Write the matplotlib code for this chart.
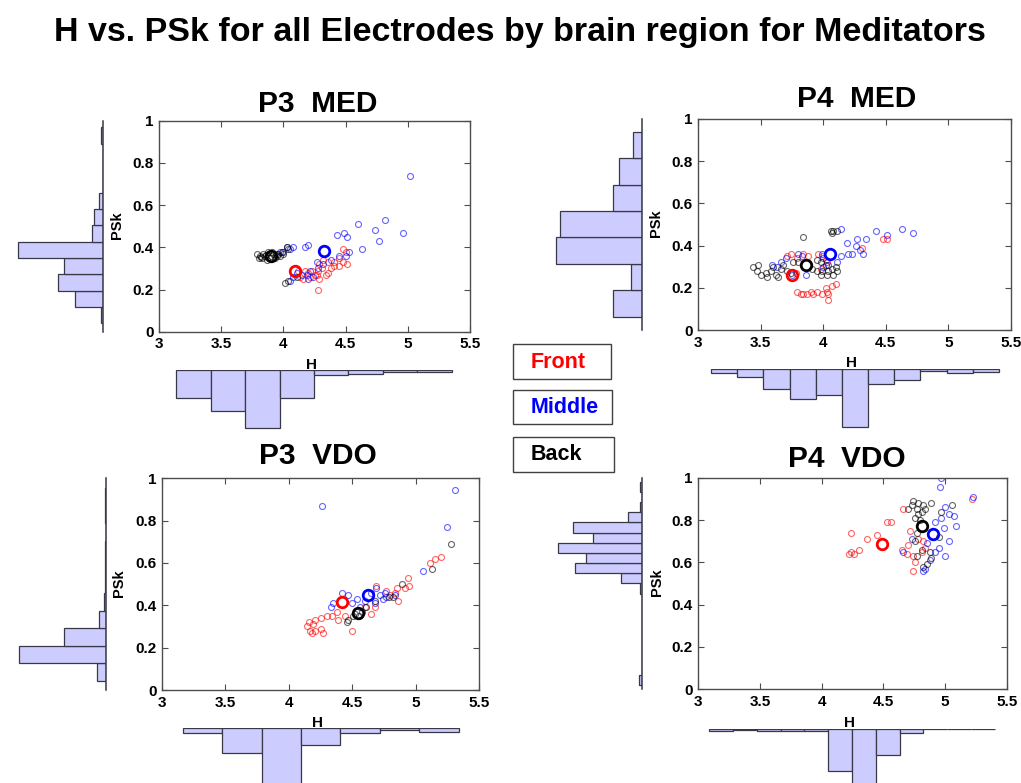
import numpy as np
import matplotlib
matplotlib.use("Agg")
import matplotlib.pyplot as plt
from matplotlib.patches import Rectangle

plt.rcParams['font.family'] = ['Liberation Sans', 'DejaVu Sans']
plt.rcParams['font.weight'] = 'bold'
plt.rcParams['axes.labelweight'] = 'bold'

W, H = 1021, 783

# ---------------- P3 MED ----------------
p3_med_front_h = [4.28, 4.48, 4.50, 4.45, 4.48, 4.41, 4.36, 4.32, 4.29, 4.28, 4.31, 4.34, 4.36, 4.38,
                  4.25, 4.23, 4.20, 4.17, 4.13, 4.16, 4.21, 4.29, 4.41, 4.45, 4.51, 4.27, 4.12]
p3_med_front_psk = [0.20, 0.39, 0.38, 0.35, 0.33, 0.33, 0.33, 0.34, 0.32, 0.29, 0.30, 0.27, 0.28, 0.30,
                    0.27, 0.29, 0.28, 0.29, 0.26, 0.25, 0.26, 0.25, 0.31, 0.31, 0.32, 0.27, 0.29]
p3_med_middle_h = [5.02, 4.82, 4.60, 4.74, 4.96, 4.43, 4.49, 4.51, 4.77, 4.63, 4.53, 4.45, 4.50, 4.38,
                   4.20, 4.17, 4.08, 4.05, 4.03, 3.97, 4.00, 4.32, 4.28, 4.21, 4.19, 4.24, 4.15, 4.08,
                   4.05, 4.20, 4.11, 4.27]
p3_med_middle_psk = [0.74, 0.53, 0.51, 0.48, 0.47, 0.46, 0.47, 0.45, 0.43, 0.39, 0.38, 0.36, 0.36, 0.34,
                     0.41, 0.40, 0.40, 0.39, 0.40, 0.38, 0.38, 0.32, 0.30, 0.29, 0.27, 0.26, 0.27, 0.26,
                     0.24, 0.25, 0.28, 0.33]
p3_med_back_h = [3.79, 3.81, 3.84, 3.85, 3.88, 3.89, 3.92, 3.93, 3.96, 3.99, 4.00, 4.03, 4.04, 3.80,
                 3.83, 3.87, 3.91, 3.95, 4.01, 4.04, 4.11, 3.82, 3.86, 3.90, 3.94, 3.97]
p3_med_back_psk = [0.37, 0.36, 0.37, 0.36, 0.38, 0.35, 0.37, 0.35, 0.37, 0.38, 0.37, 0.40, 0.39, 0.35,
                   0.35, 0.34, 0.38, 0.36, 0.23, 0.24, 0.26, 0.355, 0.365, 0.36, 0.37, 0.36]
p3_med_means = [(4.09, 0.289), (4.325, 0.384), (3.90, 0.358)]
p3_med_hist_psk = [2.3, 28, 45.3, 38.7, 84.7, 10.7, 8.7, 4, 0, 0, 0, 2.3]
p3_med_hist_psk_range = (0.04, 0.969)
p3_med_hist_h = [28.3, 41, 58.3, 28.3, 5, 4.3, 1.7, 1.7]
p3_med_hist_h_range = (3.137, 5.355)

# ---------------- P4 MED ----------------
p4_med_front_h = [4.48, 4.51, 4.31, 3.79, 3.82, 3.84, 3.87, 3.90, 3.92, 3.95, 3.99, 4.03, 4.04, 4.07,
                  4.10, 4.04, 4.02, 3.71, 3.74, 3.79, 3.84, 3.88, 3.96, 3.99, 4.02, 4.03, 3.98, 3.78]
p4_med_front_psk = [0.43, 0.43, 0.39, 0.18, 0.17, 0.17, 0.17, 0.18, 0.17, 0.18, 0.17, 0.18, 0.17, 0.21,
                    0.22, 0.14, 0.20, 0.35, 0.36, 0.34, 0.36, 0.35, 0.36, 0.35, 0.33, 0.32, 0.29, 0.27]
p4_med_middle_h = [4.14, 4.42, 4.63, 4.72, 4.27, 4.34, 4.51, 4.19, 4.26, 4.29, 4.32, 4.20, 4.14, 4.23,
                   4.11, 4.00, 3.99, 3.80, 3.83, 3.70, 3.66, 3.59, 3.63, 3.75, 3.86, 4.00, 4.04]
p4_med_middle_psk = [0.48, 0.47, 0.48, 0.46, 0.43, 0.43, 0.45, 0.41, 0.40, 0.38, 0.36, 0.36, 0.35, 0.36,
                     0.32, 0.34, 0.36, 0.36, 0.35, 0.34, 0.32, 0.31, 0.30, 0.26, 0.26, 0.30, 0.31]
p4_med_back_h = [3.44, 3.48, 3.47, 3.50, 3.54, 3.55, 3.58, 3.60, 3.62, 3.64, 3.66, 3.68, 3.71, 3.74,
                 3.76, 3.80, 3.84, 3.91, 3.95, 3.98, 3.99, 4.02, 4.04, 4.07, 4.10, 4.06, 4.08, 4.11,
                 4.07, 3.95, 3.98, 4.03, 4.08, 4.11]
p4_med_back_psk = [0.30, 0.31, 0.28, 0.26, 0.27, 0.25, 0.28, 0.30, 0.26, 0.25, 0.29, 0.31, 0.28, 0.27,
                   0.32, 0.32, 0.44, 0.29, 0.28, 0.26, 0.28, 0.31, 0.28, 0.29, 0.30, 0.47, 0.47, 0.47,
                   0.46, 0.33, 0.32, 0.26, 0.26, 0.28]
p4_med_means = [(3.752, 0.26), (4.054, 0.361), (3.862, 0.306)]
p4_med_hist_psk = [29.3, 11, 86, 81.7, 29.3, 23.3, 9]
p4_med_hist_psk_range = (0.063, 0.94)
p4_med_hist_h = [4, 8, 20, 30, 25.7, 57.3, 15, 10.7, 1.3, 4, 2.3]
p4_med_hist_h_range = (3.104, 5.404)

# ---------------- P3 VDO ----------------
p3_vdo_front_h = [5.20, 5.15, 5.11, 4.94, 4.95, 4.92, 4.85, 4.84, 4.86, 4.77, 4.80, 4.69, 4.65, 4.68,
                  4.60, 4.50, 4.38, 4.34, 4.30, 4.25, 4.21, 4.16, 4.14, 4.19, 4.17, 4.21, 4.25, 4.27,
                  4.18, 4.39, 4.44]
p3_vdo_front_psk = [0.63, 0.62, 0.60, 0.53, 0.49, 0.48, 0.48, 0.46, 0.42, 0.47, 0.45, 0.49, 0.36, 0.39,
                    0.39, 0.28, 0.37, 0.35, 0.35, 0.34, 0.33, 0.32, 0.30, 0.31, 0.28, 0.28, 0.29, 0.27,
                    0.27, 0.33, 0.35]
p3_vdo_middle_h = [4.26, 5.31, 5.25, 5.06, 4.42, 4.69, 4.76, 4.72, 4.74, 4.77, 4.65, 4.54, 4.50, 4.47,
                   4.33, 4.35, 4.60, 4.68, 4.84, 4.56]
p3_vdo_middle_psk = [0.87, 0.945, 0.77, 0.56, 0.46, 0.48, 0.46, 0.45, 0.43, 0.44, 0.46, 0.43, 0.41, 0.45,
                     0.39, 0.41, 0.42, 0.41, 0.45, 0.39]
p3_vdo_back_h = [5.28, 5.13, 4.89, 4.82, 4.79, 4.68, 4.61, 4.58, 4.55, 4.51, 4.47, 4.46, 4.52]
p3_vdo_back_psk = [0.69, 0.57, 0.50, 0.44, 0.44, 0.42, 0.39, 0.37, 0.35, 0.35, 0.33, 0.32, 0.36]
p3_vdo_means = [(4.42, 0.417), (4.625, 0.449), (4.543, 0.364)]
p3_vdo_hist_psk = [9, 86.7, 42.3, 6.7, 1.7, 0.7, 0.7, 0.7, 0, 0.7, 0.7]
p3_vdo_hist_psk_range = (0.044, 0.954)
p3_vdo_hist_h = [5, 25, 64, 16.7, 4.3, 1.7, 3.3]
p3_vdo_hist_h_range = (3.163, 5.341)

# ---------------- P4 VDO ----------------
p4_vdo_front_h = [5.22, 4.24, 4.22, 4.24, 4.26, 4.30, 4.37, 4.45, 4.53, 4.56, 4.66, 4.70, 4.65, 4.69,
                  4.74, 4.76, 4.74, 4.81, 4.84, 4.78, 4.72, 4.82]
p4_vdo_front_psk = [0.90, 0.74, 0.64, 0.65, 0.64, 0.66, 0.71, 0.73, 0.79, 0.79, 0.85, 0.68, 0.66, 0.64,
                    0.63, 0.60, 0.56, 0.65, 0.67, 0.71, 0.75, 0.70]
p4_vdo_middle_h = [4.96, 4.97, 5.23, 5.00, 5.07, 5.03, 5.09, 4.97, 4.92, 4.99, 5.03, 4.95, 5.00, 4.92,
                   4.88, 4.84, 4.82, 4.66, 4.73, 4.85]
p4_vdo_middle_psk = [0.956, 1.0, 0.91, 0.86, 0.82, 0.83, 0.77, 0.81, 0.79, 0.76, 0.70, 0.67, 0.63, 0.65,
                     0.61, 0.57, 0.56, 0.65, 0.71, 0.69]
p4_vdo_back_h = [4.70, 4.74, 4.78, 4.82, 4.89, 4.73, 4.77, 4.81, 4.84, 4.78, 4.97, 5.06, 4.76, 4.80,
                 4.77, 4.76, 4.81, 4.77, 4.88, 4.85, 4.89, 4.82, 4.95]
p4_vdo_back_psk = [0.85, 0.89, 0.88, 0.87, 0.88, 0.87, 0.85, 0.84, 0.85, 0.83, 0.84, 0.87, 0.81, 0.80,
                   0.74, 0.70, 0.66, 0.63, 0.65, 0.59, 0.62, 0.58, 0.72]
p4_vdo_means = [(4.486, 0.689), (4.905, 0.733), (4.817, 0.774)]
p4_vdo_hist_psk = [2.7, 0, 0, 0, 0, 0, 0, 0, 0, 2.3, 20.7, 66.7, 55.7, 84, 49.3, 69.3, 14, 1.7, 0, 2.3]
p4_vdo_hist_psk_range = (0.02, 0.981)
p4_vdo_hist_h = [2, 1, 2, 2, 2, 42, 64, 26, 3.7, 0.3, 0.3, 0.3]
p4_vdo_hist_h_range = (3.087, 5.405)

regions = ['Front', 'Middle', 'Back']
region_colors = ['red', 'blue', 'black']

panels = [
    dict(name='P3  MED', pts=[(p3_med_front_h, p3_med_front_psk), (p3_med_middle_h, p3_med_middle_psk),
                              (p3_med_back_h, p3_med_back_psk)], means=p3_med_means,
         hy=p3_med_hist_psk, hy_rng=p3_med_hist_psk_range, hx=p3_med_hist_h, hx_rng=p3_med_hist_h_range,
         main=(159, 120.7, 470, 331.7), base_x=103, base_y=370, title=(318, 111.7)),
    dict(name='P4  MED', pts=[(p4_med_front_h, p4_med_front_psk), (p4_med_middle_h, p4_med_middle_psk),
                              (p4_med_back_h, p4_med_back_psk)], means=p4_med_means,
         hy=p4_med_hist_psk, hy_rng=p4_med_hist_psk_range, hx=p4_med_hist_h, hx_rng=p4_med_hist_h_range,
         main=(698, 119, 1011, 330), base_x=642, base_y=369.3, title=(857, 107)),
    dict(name='P3  VDO', pts=[(p3_vdo_front_h, p3_vdo_front_psk), (p3_vdo_middle_h, p3_vdo_middle_psk),
                              (p3_vdo_back_h, p3_vdo_back_psk)], means=p3_vdo_means,
         hy=p3_vdo_hist_psk, hy_rng=p3_vdo_hist_psk_range, hx=p3_vdo_hist_h, hx_rng=p3_vdo_hist_h_range,
         main=(162, 478.3, 479, 690), base_x=106, base_y=728.3, title=(318, 464)),
    dict(name='P4  VDO', pts=[(p4_vdo_front_h, p4_vdo_front_psk), (p4_vdo_middle_h, p4_vdo_middle_psk),
                              (p4_vdo_back_h, p4_vdo_back_psk)], means=p4_vdo_means,
         hy=p4_vdo_hist_psk, hy_rng=p4_vdo_hist_psk_range, hx=p4_vdo_hist_h, hx_rng=p4_vdo_hist_h_range,
         main=(698.3, 477.7, 1006.7, 689.3), base_x=642, base_y=729, title=(847, 467)),
]

hist_face = (0.8, 0.8, 1.0)
hist_edge = (0.22, 0.22, 0.28)


def px_axes(fig, x0, y0, x1, y1):
    return fig.add_axes([x0 / W, 1 - y1 / H, (x1 - x0) / W, (y1 - y0) / H])


fig = plt.figure(figsize=(W / 100, H / 100), dpi=100)

for p in panels:
    x0, y0, x1, y1 = p['main']

    # scatter of every electrode plus the region means
    ax = px_axes(fig, x0, y0, x1, y1)
    for (hh, pp), c in zip(p['pts'], region_colors):
        ax.plot(hh, pp, 'o', ls='none', mfc='none', mec=c, ms=4.3, mew=0.8, alpha=0.6)
    for (mh, mp), c in zip(p['means'], region_colors):
        ax.plot([mh], [mp], 'o', ls='none', mfc='none', mec=c, ms=7.6, mew=2.0)
    ax.set_xlim(3, 5.5)
    ax.set_ylim(0, 1)
    ax.set_xticks([3, 3.5, 4, 4.5, 5, 5.5])
    ax.set_xticklabels(['3', '3.5', '4', '4.5', '5', '5.5'])
    ax.set_yticks([0, 0.2, 0.4, 0.6, 0.8, 1])
    ax.set_yticklabels(['0', '0.2', '0.4', '0.6', '0.8', '1'])
    ax.tick_params(direction='in', length=4, width=0.8, color='0.3', top=True, right=True,
                   labelsize=11, pad=4)
    for s in ax.spines.values():
        s.set_color('0.3')
        s.set_linewidth(1.0)
    ax.set_xlabel('H', fontsize=11)
    ax.xaxis.set_label_coords(0.49, -0.158)
    ax.xaxis.label.set_va('center')
    ax.set_ylabel('PSk', fontsize=10.5)
    ax.yaxis.set_label_coords(-0.135, 0.506)
    ax.yaxis.label.set_va('center')

    # PSk histogram to the left, bars growing leftwards
    bx = p['base_x']
    axl = px_axes(fig, bx - 100, y0, bx, y1)
    axl.patch.set_alpha(0)
    lo, hi = p['hy_rng']
    edges = np.linspace(lo, hi, len(p['hy']) + 1)
    axl.barh(edges[:-1], p['hy'], height=edges[1] - edges[0], align='edge',
             color=hist_face, edgecolor=hist_edge, linewidth=0.9)
    axl.set_xlim(100, 0)
    axl.set_ylim(0, 1)
    axl.set_xticks([])
    axl.set_yticks([])
    for k in ['left', 'top', 'bottom']:
        axl.spines[k].set_visible(False)
    axl.spines['right'].set_color(hist_edge)
    axl.spines['right'].set_linewidth(1.1)

    # H histogram below, bars hanging downwards
    by = p['base_y']
    axb = px_axes(fig, x0, by, x1, by + 60)
    axb.patch.set_alpha(0)
    lo, hi = p['hx_rng']
    edges = np.linspace(lo, hi, len(p['hx']) + 1)
    axb.bar(edges[:-1], p['hx'], width=edges[1] - edges[0], align='edge',
            color=hist_face, edgecolor=hist_edge, linewidth=0.9)
    axb.set_xlim(3, 5.5)
    axb.set_ylim(60, 0)
    axb.axis('off')

# titles and region key on a pixel-space overlay
ov = fig.add_axes([0, 0, 1, 1])
ov.set_xlim(0, W)
ov.set_ylim(H, 0)
ov.axis('off')
ov.patch.set_alpha(0)

ov.text(520, 40.7, 'H vs. PSk for all Electrodes by brain region for Meditators',
        ha='center', va='baseline', fontsize=24.5)
for p in panels:
    tx, ty = p['title']
    ov.text(tx, ty, p['name'], ha='center', va='baseline', fontsize=21.5)

key_boxes = [(512.7, 344.3, 98, 34.7), (512.7, 390, 99.6, 34.3), (512.7, 436.7, 101.3, 35)]
for (bx, by, bw, bh), name, c in zip(key_boxes, regions, region_colors):
    ov.add_patch(Rectangle((bx, by), bw, bh, facecolor='white', edgecolor='0.25', lw=1.0))
    ov.text(bx + 17.5, by + bh / 2 + 0.5, name, color=c, ha='left', va='center', fontsize=15.5)

fig.savefig('out.png', dpi=100)
